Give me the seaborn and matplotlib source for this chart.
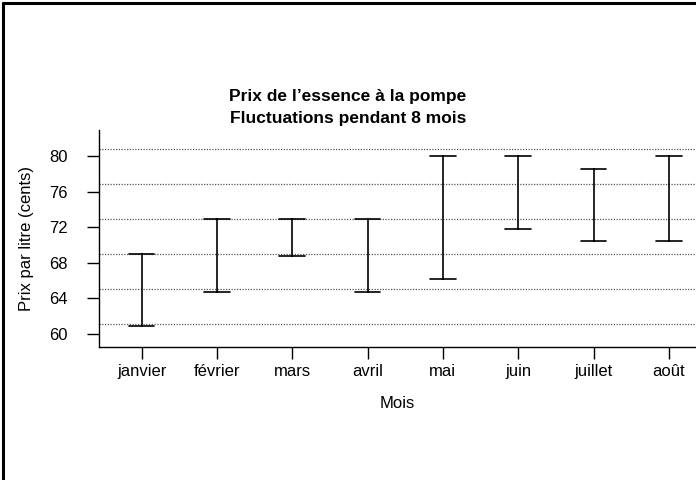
import matplotlib
matplotlib.use("Agg")
import matplotlib.pyplot as plt
from matplotlib.lines import Line2D
import numpy as np
import pandas as pd
import seaborn as sns

# valeurs
mois = ["janvier", "février", "mars", "avril", "mai", "juin", "juillet", "août"]
prix_min = [60.8, 64.7, 68.7, 64.7, 66.1, 71.8, 70.4, 70.4]
prix_max = [69.0, 72.9, 72.9, 72.9, 80.0, 80.0, 78.6, 80.0]
niveaux_grille = [61.1, 65.05, 69.0, 72.95, 76.9, 80.85]
ticks_y = [60, 64, 68, 72, 76, 80]

df = pd.DataFrame({
    "Mois": mois * 2,
    "Prix": prix_min + prix_max,
})

sns.set_style("white")
plt.rcParams["font.family"] = ["Liberation Sans", "DejaVu Sans"]
plt.rcParams["text.color"] = "black"
plt.rcParams["axes.labelcolor"] = "black"
plt.rcParams["xtick.color"] = "black"
plt.rcParams["ytick.color"] = "black"

fig = plt.figure(figsize=(6.96, 4.8), dpi=100)
ax = fig.add_axes([98.5 / 696, 1 - 347 / 480, 1 - 98.5 / 696, (347 - 130) / 480])

for niv in niveaux_grille:
    ax.axhline(niv, color="#555555", linestyle=(0, (1, 1.2)), linewidth=0.9, zorder=0)

sns.pointplot(data=df, x="Mois", y="Prix", order=mois, errorbar=("pi", 100),
              capsize=0.34, linestyle="none", marker="", color="black",
              err_kws={"linewidth": 1.2, "color": "black"}, ax=ax)

ax.set_xlim(-0.572, 7.36)
ax.set_ylim(58.48, 82.97)
ax.set_yticks(ticks_y)
ax.tick_params(axis="both", direction="out", length=8.3, width=1, colors="black",
               labelsize=12, left=True, bottom=True)
ax.tick_params(axis="x", pad=4)
ax.tick_params(axis="y", pad=14)

for side in ["top", "right"]:
    ax.spines[side].set_visible(False)
for side in ["left", "bottom"]:
    ax.spines[side].set_color("black")
    ax.spines[side].set_linewidth(1.0)

ax.set_xlabel("Mois", fontsize=12, labelpad=12)
ax.set_ylabel("Prix par litre (cents)", fontsize=12)
ax.yaxis.set_label_coords(-0.108, 0.5)

fig.text(0.5, 1 - 97 / 480, "Prix de l\u2019essence à la pompe", ha="center", va="center",
         fontsize=12.5, fontweight="bold")
fig.text(0.5, 1 - 119 / 480, "Fluctuations pendant 8 mois", ha="center", va="center",
         fontsize=12.5, fontweight="bold")

# cadre (haut et gauche seulement)
fig.add_artist(Line2D([2.5 / 696, 1], [1 - 2.5 / 480, 1 - 2.5 / 480], color="black",
                      linewidth=2.2, transform=fig.transFigure))
fig.add_artist(Line2D([2.5 / 696, 2.5 / 696], [0, 1 - 2.5 / 480], color="black",
                      linewidth=2.2, transform=fig.transFigure))

fig.savefig("out.png", dpi=100)
